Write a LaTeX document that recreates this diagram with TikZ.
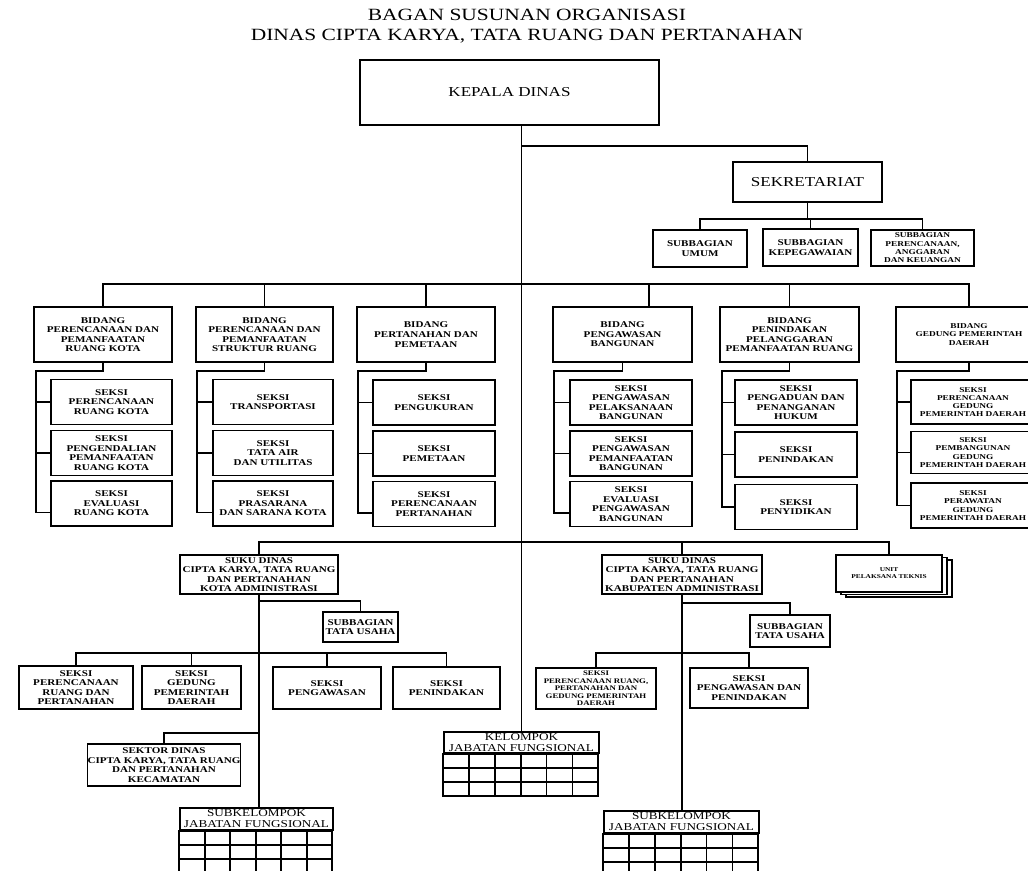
\documentclass[tikz,border=0pt]{standalone}
\usepackage{fontspec}
\usepackage{tikz}
\usetikzlibrary{calc, shadows}
\newfontfamily\orgfont[FakeStretch=1.25]{Liberation Serif}
\newcommand{\ttlf}{\orgfont\fontsize{12.2}{14.2}\selectfont}
\newcommand{\kdf}{\orgfont\fontsize{9.7}{11}\selectfont}
\newcommand{\bxf}{\orgfont\bfseries\fontsize{6.3}{6.8}\selectfont}
\newcommand{\bxt}{\orgfont\bfseries\fontsize{5.3}{5.9}\selectfont}
\newcommand{\bxs}{\orgfont\bfseries\fontsize{5}{5.3}\selectfont}
\newcommand{\jbf}{\orgfont\fontsize{7.5}{7.8}\selectfont}
\newcommand{\uptf}{\orgfont\bfseries\fontsize{4.2}{5}\selectfont}
\tikzstyle{block} = [draw, fill=white, rectangle, inner sep=0pt, align=center, font=\bxf]
\tikzset{wh/.style 2 args={minimum width=#1*0.025cm, minimum height=#2*0.025cm}}
\newcommand{\jabgrid}[2]{%
    \draw (#1.south west) rectangle ++(#2,42);
    \foreach \i in {1,...,5} \draw ($(#1.south west)+(\i*#2/6,0)$) -- ++(0,42);
    \foreach \j in {1,2} \draw ($(#1.south west)+(0,\j*14)$) -- ++(#2,0);
}

\begin{document}
\begin{tikzpicture}[x=0.025cm, y=-0.025cm, line width=1.1pt]
    \useasboundingbox[fill=white] (0,0) rectangle (1028,870);
    \node[align=center, font=\ttlf] (title) at (527,26) {BAGAN SUSUNAN ORGANISASI\\DINAS CIPTA KARYA, TATA RUANG DAN PERTANAHAN};
    \node[block, wh={299}{65}, font=\kdf] (kd) at (509.5,92.5) {KEPALA DINAS};
    \node[block, wh={149}{40}, font=\kdf] (sek) at (807.5,182) {SEKRETARIAT};
    \node[block, wh={94}{37}] (sb1) at (700,248.5) {SUBBAGIAN\\UMUM};
    \node[block, wh={95}{37}] (sb2) at (810.5,247.5) {SUBBAGIAN\\KEPEGAWAIAN};
    \node[block, wh={103}{36}, font=\bxt] (sb3) at (922.5,248) {SUBBAGIAN\\PERENCANAAN,\\ANGGARAN\\DAN KEUANGAN};

    \node[block, wh={138}{55}] (b1) at (103,334.5) {BIDANG\\PERENCANAAN DAN\\PEMANFAATAN\\RUANG KOTA};
    \node[block, wh={137}{55}] (b2) at (264.5,334.5) {BIDANG\\PERENCANAAN DAN\\PEMANFAATAN\\STRUKTUR RUANG};
    \node[block, wh={138}{55}] (b3) at (426,334.5) {BIDANG\\PERTANAHAN DAN\\PEMETAAN};
    \node[block, wh={139}{55}] (b4) at (622.5,334.5) {BIDANG\\PENGAWASAN\\BANGUNAN};
    \node[block, wh={139}{55}] (b5) at (789.5,334.5) {BIDANG\\PENINDAKAN\\PELANGGARAN\\PEMANFAATAN RUANG};
    \node[block, wh={146}{55}, font=\bxt] (b6) at (969,334.5) {BIDANG\\GEDUNG PEMERINTAH\\DAERAH};

    \node[block, wh={121}{45}] (b1s1) at (111.5,402) {SEKSI\\PERENCANAAN\\RUANG KOTA};
    \node[block, wh={121}{45}] (b1s2) at (111.5,453) {SEKSI\\PENGENDALIAN\\PEMANFAATAN\\RUANG KOTA};
    \node[block, wh={121}{45}] (b1s3) at (111.5,503.5) {SEKSI\\EVALUASI\\RUANG KOTA};
    \node[block, wh={120}{45}] (b2s1) at (273,402) {SEKSI\\TRANSPORTASI};
    \node[block, wh={120}{45}] (b2s2) at (273,453) {SEKSI\\TATA AIR\\DAN UTILITAS};
    \node[block, wh={120}{45}] (b2s3) at (273,503.5) {SEKSI\\PRASARANA\\DAN SARANA KOTA};
    \node[block, wh={122}{45}] (b3s1) at (434,402.5) {SEKSI\\PENGUKURAN};
    \node[block, wh={122}{45}] (b3s2) at (434,453.5) {SEKSI\\PEMETAAN};
    \node[block, wh={122}{45}] (b3s3) at (434,504) {SEKSI\\PERENCANAAN\\PERTANAHAN};
    \node[block, wh={122}{45}] (b4s1) at (631,402.5) {SEKSI\\PENGAWASAN\\PELAKSANAAN\\BANGUNAN};
    \node[block, wh={122}{45}] (b4s2) at (631,453.5) {SEKSI\\PENGAWASAN\\PEMANFAATAN\\BANGUNAN};
    \node[block, wh={122}{45}] (b4s3) at (631,504) {SEKSI\\EVALUASI\\PENGAWASAN\\BANGUNAN};
    \node[block, wh={122}{45}] (b5s1) at (796,402.5) {SEKSI\\PENGADUAN DAN\\PENANGANAN\\HUKUM};
    \node[block, wh={122}{45}] (b5s2) at (796,454.5) {SEKSI\\PENINDAKAN};
    \node[block, wh={122}{45}] (b5s3) at (796,507) {SEKSI\\PENYIDIKAN};
    \node[block, wh={124}{44}, font=\bxt] (b6s1) at (973,402) {SEKSI\\PERENCANAAN\\GEDUNG\\PEMERINTAH DAERAH};
    \node[block, wh={124}{42}, font=\bxt] (b6s2) at (973,452.5) {SEKSI\\PEMBANGUNAN\\GEDUNG\\PEMERINTAH DAERAH};
    \node[block, wh={124}{45}, font=\bxt] (b6s3) at (973,505.5) {SEKSI\\PERAWATAN\\GEDUNG\\PEMERINTAH DAERAH};

    \node[block, wh={158}{39}] (sd1) at (259,574.5) {SUKU DINAS\\CIPTA KARYA, TATA RUANG\\DAN PERTANAHAN\\KOTA ADMINISTRASI};
    \node[block, wh={160}{39}] (sd2) at (682,574.5) {SUKU DINAS\\CIPTA KARYA, TATA RUANG\\DAN PERTANAHAN\\KABUPATEN ADMINISTRASI};
    \node[block, wh={106}{37}, font=\uptf, double copy shadow={shadow xshift=3.6pt, shadow yshift=-1.8pt}] (upt) at (889,573.5) {UNIT\\PELAKSANA TEKNIS};

    \node[block, wh={75}{30}] (tu1) at (360.5,627) {SUBBAGIAN\\TATA USAHA};
    \node[block, wh={114}{43}] (s11) at (76,687.5) {SEKSI\\PERENCANAAN\\RUANG DAN\\PERTANAHAN};
    \node[block, wh={99}{43}] (s12) at (191.5,687.5) {SEKSI\\GEDUNG\\PEMERINTAH\\DAERAH};
    \node[block, wh={108}{42}] (s13) at (327,688) {SEKSI\\PENGAWASAN};
    \node[block, wh={107}{42}] (s14) at (446.5,688) {SEKSI\\PENINDAKAN};
    \node[block, wh={140}{42}] (st1) at (164,765) {SEKTOR DINAS\\CIPTA KARYA, TATA RUANG\\DAN PERTANAHAN\\KECAMATAN};
    \node[block, wh={153}{22}, font=\jbf] (sk1) at (256.5,819) {SUBKELOMPOK\\JABATAN FUNGSIONAL};

    \node[block, wh={80}{32}] (tu2) at (790,631) {SUBBAGIAN\\TATA USAHA};
    \node[block, wh={120}{41}, font=\bxs] (s21) at (596,688.5) {SEKSI\\PERENCANAAN RUANG,\\PERTANAHAN DAN\\GEDUNG PEMERINTAH\\DAERAH};
    \node[block, wh={118}{40}] (s22) at (749,688) {SEKSI\\PENGAWASAN DAN\\PENINDAKAN};
    \node[block, wh={155}{22}, font=\jbf] (sk2) at (681.5,822) {SUBKELOMPOK\\JABATAN FUNGSIONAL};

    \node[block, wh={155}{21}, font=\jbf] (kel) at (521.5,742.5) {KELOMPOK\\JABATAN FUNGSIONAL};

    \coordinate (sekj) at (0,146);
    \coordinate (sbj) at (0,219);
    \coordinate (bbus) at (0,284);
    \coordinate (r1) at (36,371);
    \coordinate (r2) at (197,371);
    \coordinate (r3) at (358,371);
    \coordinate (r4) at (554,371);
    \coordinate (r5) at (722,371);
    \coordinate (r6) at (897,371);
    \coordinate (lbus) at (0,542);
    \coordinate (tuj1) at (0,601);
    \coordinate (tuj2) at (0,603);
    \coordinate (sj) at (0,653);
    \coordinate (stj) at (0,733);

    \draw (kd.south -| kel.north) -- (kel.north);
    \draw (kel.north |- sekj) -| (sek.north);
    \draw (sek.south) -- (sek.south |- sbj);
    \draw (sb1.north) |- (sb3.north |- sbj) -- (sb3.north);
    \draw (sb2.north) -- (sb2.north |- sbj);

    \draw (b1.north) |- (b6.north |- bbus) -- (b6.north);
    \draw (b2.north) -- (b2.north |- bbus);
    \draw (b3.north) -- (b3.north |- bbus);
    \draw ([xshift=19pt]b4.north) -- ([xshift=19pt]b4.north |- bbus);
    \draw (b5.north) -- (b5.north |- bbus);

    \draw (b1.south) |- (r1) |- ([yshift=-6.4pt]b1s3.west);
    \draw (r1 |- b1s1.west) -- (b1s1.west);
    \draw (r1 |- b1s2.west) -- (b1s2.west);
    \draw (b2.south) |- (r2) |- ([yshift=-6.4pt]b2s3.west);
    \draw (r2 |- b2s1.west) -- (b2s1.west);
    \draw (r2 |- b2s2.west) -- (b2s2.west);
    \draw (b3.south) |- (r3) |- ([yshift=-6.4pt]b3s3.west);
    \draw (r3 |- b3s1.west) -- (b3s1.west);
    \draw (r3 |- b3s2.west) -- (b3s2.west);
    \draw (b4.south) |- (r4) |- ([yshift=-6.4pt]b4s3.west);
    \draw (r4 |- b4s1.west) -- (b4s1.west);
    \draw (r4 |- b4s2.west) -- (b4s2.west);
    \draw (b5.south) |- (r5) |- (b5s3.west);
    \draw (r5 |- b5s1.west) -- (b5s1.west);
    \draw (r5 |- b5s2.west) -- (b5s2.west);
    \draw (b6.south) |- (r6) |- (b6s3.west);
    \draw (r6 |- b6s1.west) -- (b6s1.west);
    \draw (r6 |- b6s2.west) -- (b6s2.west);

    \draw (sd1.north) |- (upt.north |- lbus) -- (upt.north);
    \draw (sd2.north) -- (sd2.north |- lbus);

    \draw (sd1.south) -- (sd1.south |- sk1.north);
    \draw (sd1.south |- tuj1) -| (tu1.north);
    \draw (s11.north) |- (s14.north |- sj) -- (s14.north);
    \draw (s12.north) -- (s12.north |- sj);
    \draw (s13.north) -- (s13.north |- sj);
    \draw (sd1.south |- stj) -| (st1.north);

    \draw (sd2.south) -- (sd2.south |- sk2.north);
    \draw (sd2.south |- tuj2) -| (tu2.north);
    \draw (s21.north) |- (s22.north |- sj) -- (s22.north);

    \jabgrid{kel}{155}
    \jabgrid{sk1}{153}
    \jabgrid{sk2}{155}
\end{tikzpicture}
\end{document}
